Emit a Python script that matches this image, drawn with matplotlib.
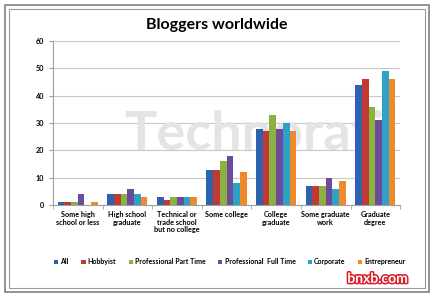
import numpy as np
import matplotlib
matplotlib.use("Agg")
import matplotlib.pyplot as plt
from matplotlib.patches import Rectangle
import matplotlib.patheffects as pe

plt.rcParams["font.family"] = ["Lato", "DejaVu Sans"]

categories = ["Some high\nschool or less", "High school\ngraduate",
              "Technical or\ntrade school\nbut no college", "Some college",
              "College\ngraduate", "Some graduate\nwork", "Graduate\ndegree"]
series_names = ["All", "Hobbyist", "Professional Part Time",
                "Professional  Full Time", "Corporate", "Entrepreneur"]
all_vals = [1, 4, 3, 13, 28, 7, 44]
hobbyist = [1, 4, 2, 13, 27, 7, 46]
prof_part = [1, 4, 3, 16, 33, 7, 36]
prof_full = [4, 6, 3, 18, 28, 10, 31]
corporate = [0, 4, 3, 8, 30, 6, 49]
entrepreneur = [1, 3, 3, 12, 27, 9, 46]
colors = ["#2E62AE", "#BE3A33", "#8BB23E", "#6C4A9C", "#2BA2C6", "#EE8A2C"]

series = [all_vals, hobbyist, prof_part, prof_full, corporate, entrepreneur]

fig = plt.figure(figsize=(4.34, 2.96), dpi=100)
ax = fig.add_axes([0.122, 0.307, 0.800, 0.554])

# frame around the chart
fig.patches.append(Rectangle((0.012, 0.015), 0.976, 0.968, transform=fig.transFigure,
                             fill=False, edgecolor="#808080", linewidth=1.2))
fig.patches.append(Rectangle((0.020, 0.027), 0.960, 0.944, transform=fig.transFigure,
                             fill=False, edgecolor="#9a9a9a", linewidth=0.8))

# watermark behind the bars
ax.text(0.58, 0.43, "Technorati", transform=ax.transAxes, fontsize=39,
        fontweight="bold", color="#e4e4e4", ha="center", va="center", zorder=1)

x = np.arange(len(categories))
w = 0.135
for i, (vals, name) in enumerate(zip(series, series_names)):
    ax.bar(x + (i - 2.5) * w, vals, width=w, color=colors[i], label=name, zorder=3)

ax.set_xlim(-0.5, len(categories) - 0.5)
ax.set_ylim(0, 60)
ax.set_yticks(range(0, 61, 10))
ax.yaxis.grid(True, color="#c8c8c8", linewidth=0.8, zorder=0)
ax.set_axisbelow(True)
for s in ["top", "right"]:
    ax.spines[s].set_visible(False)
ax.spines["left"].set_color("#a0a0a0")
ax.spines["bottom"].set_color("#a0a0a0")
ax.set_xticks(x)
ax.set_xticklabels(categories, fontsize=5.2, fontweight="bold", linespacing=1.15)
ax.set_xticks(np.arange(-0.5, len(categories)), minor=True)
ax.tick_params(axis="x", which="major", length=0, pad=4)
ax.tick_params(axis="x", which="minor", length=3, color="#a0a0a0")
ax.tick_params(axis="y", labelsize=5.2, length=3, color="#a0a0a0")
for lbl in ax.get_yticklabels():
    lbl.set_fontweight("bold")

fig.text(0.5, 0.915, "Bloggers worldwide", ha="center", va="center",
         fontsize=11.5, fontweight="bold")

fig.legend(loc="center", bbox_to_anchor=(0.53, 0.115), ncol=6, frameon=False,
           prop={"size": 5.0, "weight": "bold"}, handlelength=0.6, handleheight=0.6,
           handletextpad=0.3, columnspacing=1.8)

fig.text(0.87, 0.058, "bnxb.com", ha="center", va="center", fontsize=10,
         fontweight="bold", color="white",
         path_effects=[pe.withStroke(linewidth=2.2, foreground="#d8202a")])

fig.savefig("out.png", dpi=100, facecolor="white")
